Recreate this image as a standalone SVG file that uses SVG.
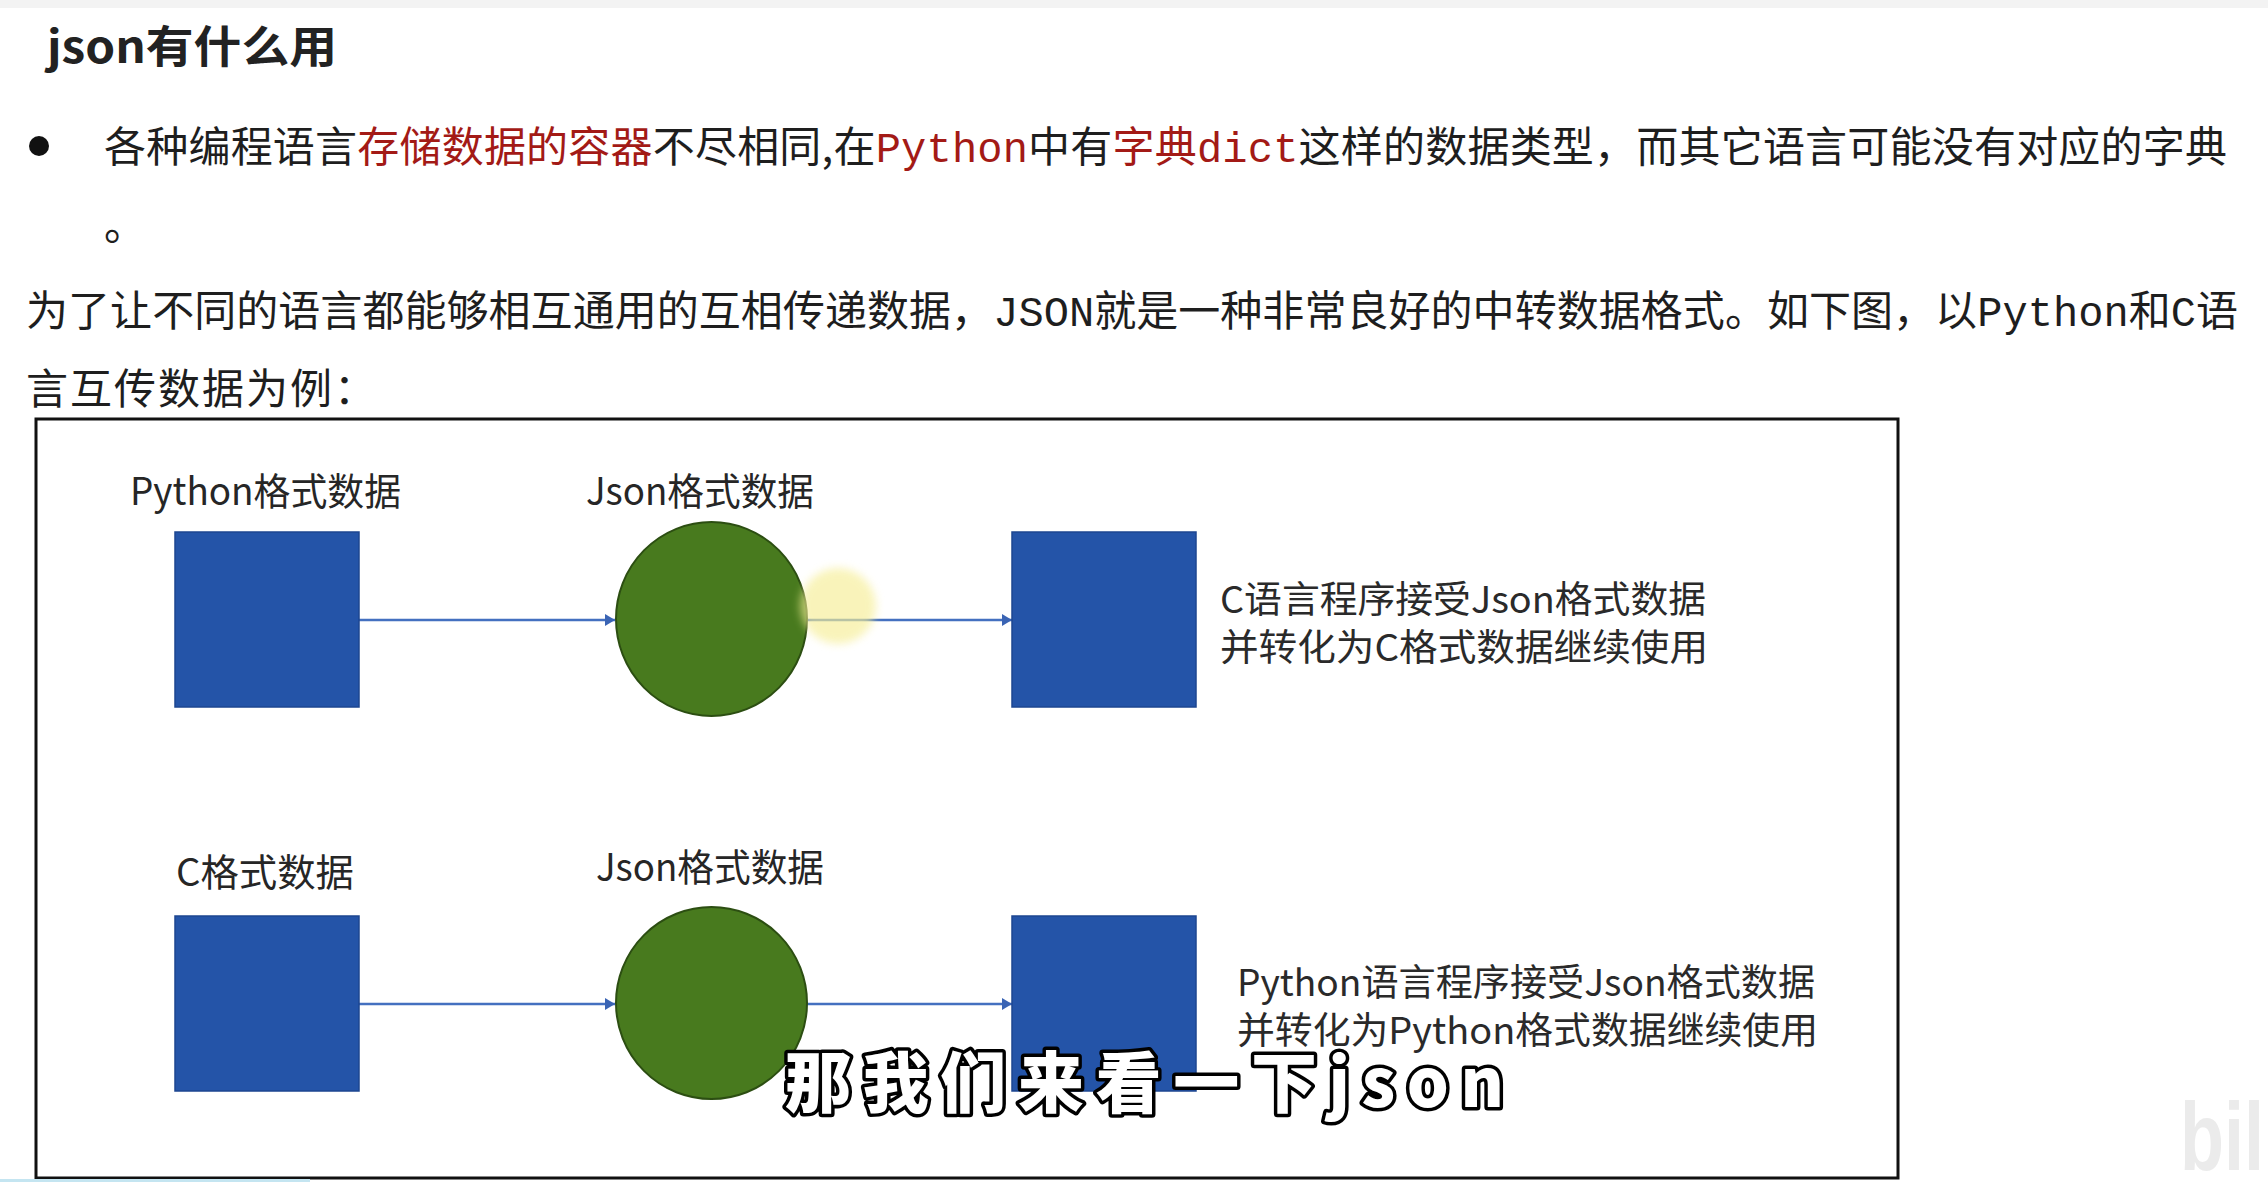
<svg xmlns="http://www.w3.org/2000/svg" width="2268" height="1182" viewBox="0 0 2268 1182">
<defs>
<style>
.body{font-family:"Noto Sans CJK SC","Liberation Sans",sans-serif;font-size:42px;fill:#1e1e1e}
.mono{font-family:"Liberation Mono","Noto Sans CJK SC",monospace}
.red{fill:#a31a16}
.lbl{font-family:"Noto Sans CJK SC","Liberation Sans",sans-serif;font-size:38px;fill:#262626}
.desc{font-family:"Noto Sans CJK SC","Liberation Sans",sans-serif;font-size:37px;fill:#2a2a2a}
.sq{fill:#2454a8;stroke:#1d4690;stroke-width:1.5}
.ball{fill:#487a1e;stroke:#2c4e12;stroke-width:2}
.conn{stroke:#4470c0;stroke-width:2.5;fill:none}
</style>
<marker id="arr" markerWidth="12" markerHeight="12" refX="10" refY="6" orient="auto" markerUnits="userSpaceOnUse">
<path d="M0,0 L10,6 L0,12 Z" fill="#3a64b4"/>
</marker>
<filter id="blur" x="-50%" y="-50%" width="200%" height="200%"><feGaussianBlur stdDeviation="4"/></filter>
</defs>
<rect x="0" y="0" width="2268" height="1182" fill="#ffffff"/>
<rect x="0" y="0" width="2268" height="8" fill="#f3f3f3"/>

<g id="title">
<text x="47" y="63" font-family="'Noto Sans CJK SC','Liberation Sans',sans-serif" font-size="44" font-weight="bold" fill="#222" textLength="290" lengthAdjust="spacingAndGlyphs">json有什么用</text>
</g>

<g id="paragraph">
<circle cx="39" cy="146" r="10" fill="#111"/>
<text class="body" x="104" y="162" textLength="2123" lengthAdjust="spacing">各种编程语言<tspan class="red">存储数据的容器</tspan>不尽相同,在<tspan class="red mono">Python</tspan>中有<tspan class="red">字典</tspan><tspan class="red mono">dict</tspan>这样的数据类型，而其它语言可能没有对应的字典</text>
<text class="body" x="104" y="240">。</text>
<text class="body" x="26" y="326" textLength="2212" lengthAdjust="spacing">为了让不同的语言都能够相互通用的互相传递数据，<tspan class="mono">JSON</tspan>就是一种非常良好的中转数据格式。如下图，以<tspan class="mono">Python</tspan>和<tspan class="mono">C</tspan>语</text>
<text class="body" x="26" y="404" letter-spacing="2">言互传数据为例：</text>
</g>

<g id="frame">
<rect x="36" y="419" width="1862" height="759" fill="none" stroke="#111" stroke-width="3"/>
</g>

<g id="connectors">
<line class="conn" x1="359" y1="620" x2="615" y2="620" marker-end="url(#arr)"/>
<line class="conn" x1="807" y1="620" x2="1012" y2="620" marker-end="url(#arr)"/>
<line class="conn" x1="359" y1="1004" x2="615" y2="1004" marker-end="url(#arr)"/>
<line class="conn" x1="807" y1="1004" x2="1012" y2="1004" marker-end="url(#arr)"/>
</g>

<g id="python-data">
<text class="lbl" x="130" y="505" textLength="271" lengthAdjust="spacingAndGlyphs">Python格式数据</text>
<rect class="sq" x="175" y="532" width="184" height="175"/>
</g>
<g id="json-data-1">
<text class="lbl" x="586" y="505" textLength="228" lengthAdjust="spacingAndGlyphs">Json格式数据</text>
<ellipse class="ball" cx="711.5" cy="619" rx="95.5" ry="97"/>
</g>
<g id="c-receiver">
<rect class="sq" x="1012" y="532" width="184" height="175"/>
<text class="desc" x="1220" y="613" textLength="486" lengthAdjust="spacingAndGlyphs">C语言程序接受Json格式数据</text>
<text class="desc" x="1220" y="661" textLength="488" lengthAdjust="spacingAndGlyphs">并转化为C格式数据继续使用</text>
</g>

<g id="c-data">
<text class="lbl" x="176" y="886" textLength="178" lengthAdjust="spacingAndGlyphs">C格式数据</text>
<rect class="sq" x="175" y="916" width="184" height="175"/>
</g>
<g id="json-data-2">
<text class="lbl" x="596" y="881" textLength="228" lengthAdjust="spacingAndGlyphs">Json格式数据</text>
<ellipse class="ball" cx="711.5" cy="1003" rx="95.5" ry="96"/>
</g>
<g id="python-receiver">
<rect class="sq" x="1012" y="916" width="184" height="175"/>
<text class="desc" x="1237" y="996" textLength="578" lengthAdjust="spacingAndGlyphs">Python语言程序接受Json格式数据</text>
<text class="desc" x="1237" y="1044" textLength="581" lengthAdjust="spacingAndGlyphs">并转化为Python格式数据继续使用</text>
</g>

<circle cx="838" cy="606" r="38" fill="#f6ee96" opacity="0.65" filter="url(#blur)"/>

<g id="subtitle">
<text x="785" y="1107" font-family="'Noto Sans CJK SC','Liberation Sans',sans-serif" font-size="66" font-weight="900" fill="#ffffff" stroke="#000" stroke-width="7" stroke-linejoin="round" paint-order="stroke" textLength="719" lengthAdjust="spacing">那我们来看一下json</text>
</g>

<text x="2180" y="1170" font-family="'Liberation Sans',sans-serif" font-size="96" font-weight="bold" fill="#ebebeb" textLength="84" lengthAdjust="spacingAndGlyphs">bil</text>
<rect x="0" y="1179" width="310" height="3" fill="#c4e5f1"/>
</svg>
